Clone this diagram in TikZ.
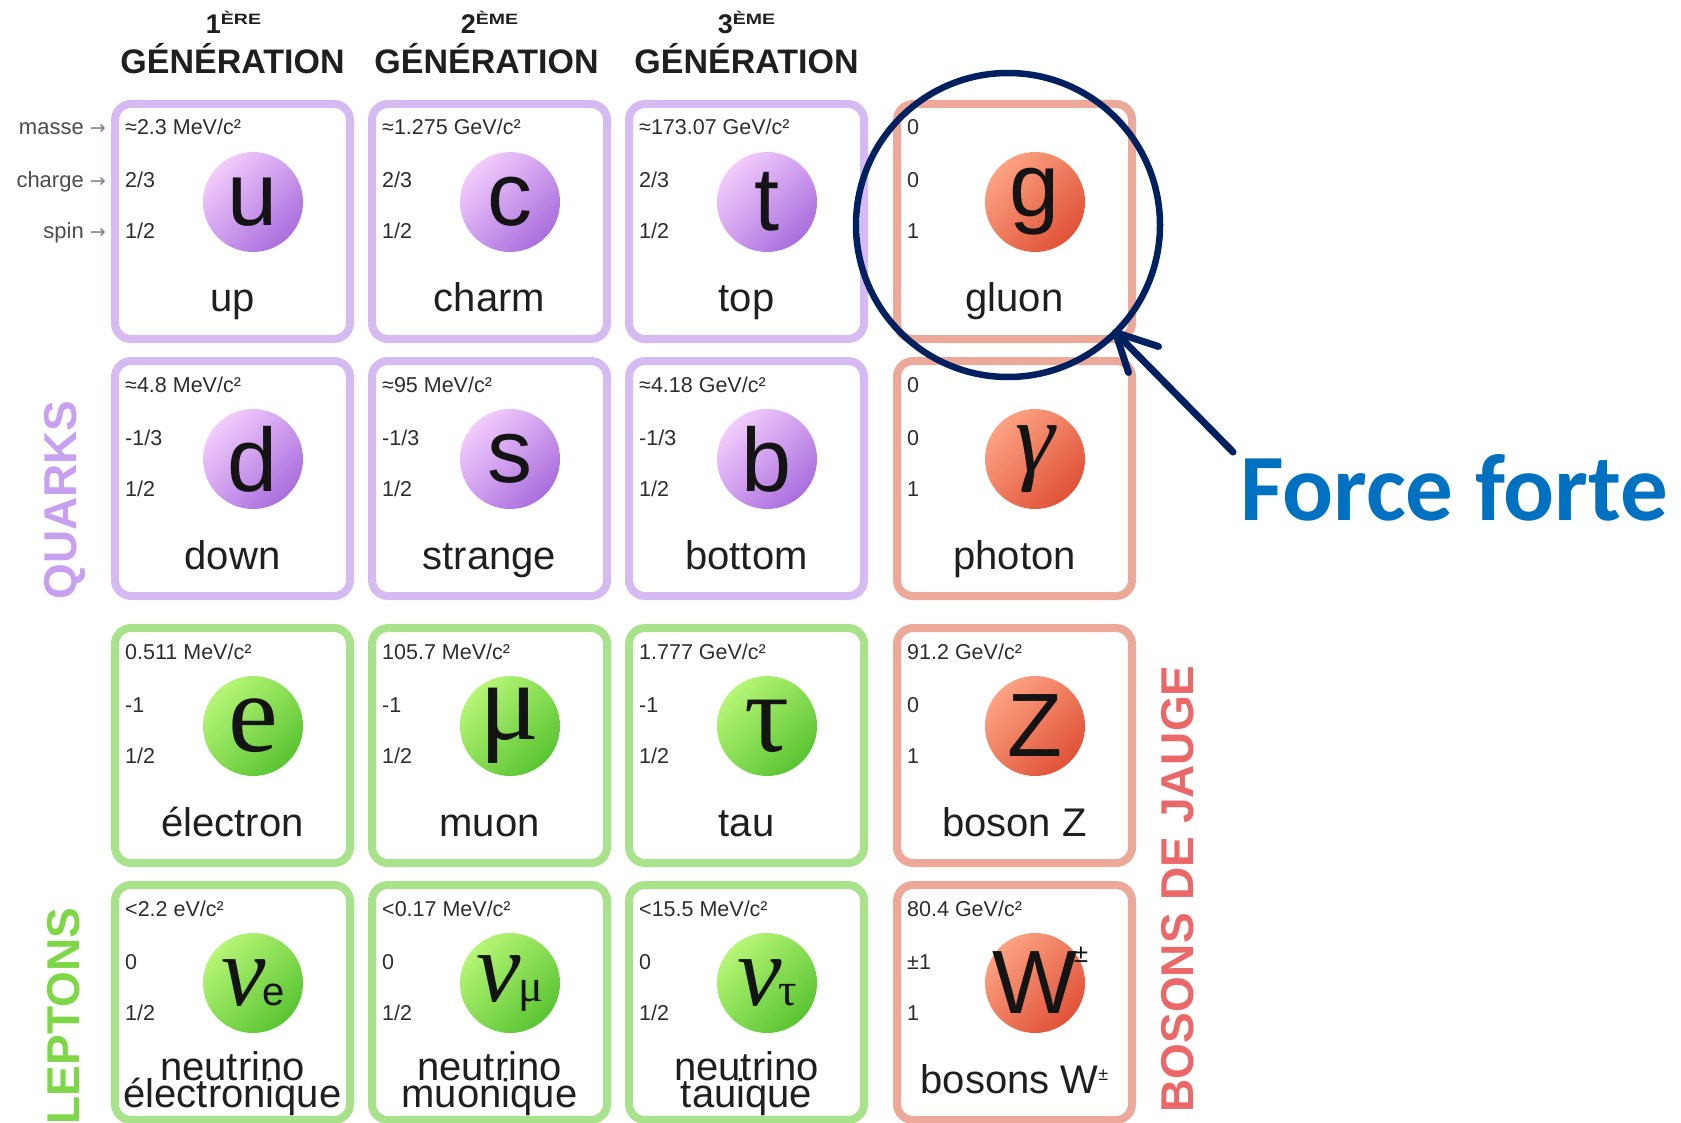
\documentclass[tikz,border=0pt]{standalone}
\usepackage{fontspec}
\setmainfont{Liberation Sans}
\newfontfamily\serifgr{Liberation Serif}
\newfontfamily\carlfont{Carlito}
\newfontfamily\djv{DejaVu Sans}
\newfontfamily\widesans[FakeStretch=1.3]{Liberation Sans}
\usetikzlibrary{calc}

\definecolor{qborder}{RGB}{214,186,242}
\definecolor{lborder}{RGB}{168,226,138}
\definecolor{bborder}{RGB}{236,168,152}
\definecolor{qlight}{RGB}{242,204,252}
\definecolor{qdark}{RGB}{170,110,222}
\definecolor{llight}{RGB}{182,246,118}
\definecolor{ldark}{RGB}{90,196,50}
\definecolor{blight}{RGB}{252,162,130}
\definecolor{bdark}{RGB}{224,82,56}
\definecolor{qtext}{RGB}{200,160,240}
\definecolor{ltext}{RGB}{125,215,70}
\definecolor{btext}{RGB}{236,104,104}
\definecolor{navy}{RGB}{0,32,96}
\definecolor{ffblue}{RGB}{0,112,192}
\definecolor{valgrey}{RGB}{45,45,45}

\newcommand\fsans{\fontsize{90}{90}\selectfont}
\newcommand\fserif{\serifgr\fontsize{112}{112}\selectfont}
\newcommand\fital{\serifgr\itshape\fontsize{100}{100}\selectfont}
\newcommand\twolines[2]{\lower14pt\vbox{\baselineskip=27pt\lineskiplimit=-100pt\lineskip=0pt\halign{\hfil##\hfil\cr#1\cr#2\cr}}}

\tikzset{
  pbox/.style={draw, line width=8pt, rounded corners=16pt, fill=white,
    minimum width=235pt, minimum height=235pt, inner sep=0pt},
  pboxq/.style={pbox, draw=qborder},
  pboxl/.style={pbox, draw=lborder},
  pboxb/.style={pbox, draw=bborder},
  pc/.style={circle, minimum size=100pt, inner sep=0pt},
  pcq/.style={pc, top color=qlight, bottom color=qdark, shading angle=45},
  pcl/.style={pc, top color=llight, bottom color=ldark, shading angle=45},
  pcb/.style={pc, top color=blight, bottom color=bdark, shading angle=45},
  val/.style={anchor=base west, inner sep=0pt, text=valgrey, font=\fontsize{21.5}{23}\selectfont},
  lab/.style={anchor=base east, inner sep=0pt, text=valgrey!85, font=\fontsize{22}{24}\selectfont},
  pname/.style={anchor=base, inner sep=0pt, text=black!88, font=\fontsize{40}{40}\selectfont},
  symb/.style={inner sep=0pt, text=black!92},
  hdr/.style={anchor=base, inner sep=0pt, text=black!88, font=\bfseries\fontsize{34}{34}\selectfont},
  hsup/.style={anchor=base, inner sep=0pt, text=black!88, font=\bfseries\fontsize{27}{27}\selectfont},
  famlabel/.style={rotate=90, inner sep=0pt, font=\bfseries\fontsize{46}{46}\selectfont},
  annot/.style={draw=navy, line width=7pt, line cap=round, line join=round}
}

\newcommand\particle[9]{%
  \node[pbox#4] (#1-box) at (#2+121.5,#3+121.5) {};
  \node[val] (#1-mass) at (#2+14,#3+35) {#5};
  \node[val] (#1-charge) at (#2+14,#3+88) {#6};
  \node[val] (#1-spin) at (#2+14,#3+139) {#7};
  \node[pc#4] (#1-ball) at (#2+142,#3+102) {};
  \node[symb] (#1-sym) at (#1-ball.center) {#8};
  \node[pname] (#1-name) at (#2+121.5,#3+212) {#9};
}

\begin{document}
\begin{tikzpicture}[x=1pt,y=-1pt]
\useasboundingbox (0,0) rectangle (1681,1123);
\clip (0,0) rectangle (1681,1123);
\fill[white] (0,0) rectangle (1681,1123);

% headers
\node[hsup] (h1) at (233.5,34) {1\raisebox{9pt}{\widesans\bfseries\fontsize{15}{15}\selectfont ÈRE}};
\node[hsup] (h2) at (489.5,34) {2\raisebox{9pt}{\widesans\bfseries\fontsize{15}{15}\selectfont ÈME}};
\node[hsup] (h3) at (746.5,34) {3\raisebox{9pt}{\widesans\bfseries\fontsize{15}{15}\selectfont ÈME}};
\node[hdr] (g1) at (232.5,74) {GÉNÉRATION};
\node[hdr] (g2) at (486.5,74) {GÉNÉRATION};
\node[hdr] (g3) at (746.5,74) {GÉNÉRATION};

% row labels
\node[lab] (lab-masse) at (106,135) {masse {\color{gray}\djv\fontsize{19}{19}\selectfont →}};
\node[lab] (lab-charge) at (106,188) {charge {\color{gray}\djv\fontsize{19}{19}\selectfont →}};
\node[lab] (lab-spin) at (106,239) {spin {\color{gray}\djv\fontsize{19}{19}\selectfont →}};

% family labels
\node[famlabel, text=qtext] (quarks) at (65,500) {QUARKS};
\node[famlabel, text=ltext] (leptons) at (64,1016) {LEPTONS};
\node[famlabel, text=btext] (bosons) at (1178,889) {BOSONS DE JAUGE};

% row 1
\particle{u}{111}{100}{q}{≈2.3 MeV/c²}{2/3}{1/2}{\fsans u}{up}
\particle{c}{368}{100}{q}{≈1.275 GeV/c²}{2/3}{1/2}{\fsans c}{charm}
\particle{t}{625}{100}{q}{≈173.07 GeV/c²}{2/3}{1/2}{\fsans t}{top}
\particle{g}{893}{100}{b}{0}{0}{1}{\fsans g}{gluon}
% row 2
\particle{d}{111}{357}{q}{≈4.8 MeV/c²}{-1/3}{1/2}{\fsans d}{down}
\particle{s}{368}{357}{q}{≈95 MeV/c²}{-1/3}{1/2}{\fsans s}{strange}
\particle{b}{625}{357}{q}{≈4.18 GeV/c²}{-1/3}{1/2}{\fsans b}{bottom}
\particle{gamma}{893}{357}{b}{0}{0}{1}{\fital γ}{photon}
% row 3
\particle{e}{111}{624}{l}{0.511 MeV/c²}{-1}{1/2}{\fserif e}{électron}
\particle{mu}{368}{624}{l}{105.7 MeV/c²}{-1}{1/2}{\fserif μ}{muon}
\particle{tau}{625}{624}{l}{1.777 GeV/c²}{-1}{1/2}{\fserif τ}{tau}
\particle{Z}{893}{624}{b}{91.2 GeV/c²}{0}{1}{\fsans Z}{boson Z}
% row 4
\particle{nue}{111}{881}{l}{<2.2 eV/c²}{0}{1/2}{\fital ν\kern-3pt{\normalfont\fontsize{40}{40}\selectfont e}}{\twolines{neutrino}{électronique}}
\particle{numu}{368}{881}{l}{<0.17 MeV/c²}{0}{1/2}{\fital ν\kern-3pt{\serifgr\upshape\fontsize{46}{46}\selectfont μ}}{\twolines{neutrino}{muonique}}
\particle{nutau}{625}{881}{l}{<15.5 MeV/c²}{0}{1/2}{\fital ν\kern-3pt{\serifgr\upshape\fontsize{46}{46}\selectfont τ}}{\twolines{neutrino}{tauique}}
\particle{W}{893}{881}{b}{80.4 GeV/c²}{±1}{1}{\fsans W}{bosons W\raisebox{13pt}{\fontsize{18}{18}\selectfont ±}}
\node[inner sep=0pt, text=black!92, font=\fontsize{26}{26}\selectfont] (W-pm) at (1081,955) {±};

% annotation
\node[draw=navy, line width=6.5pt, circle, minimum size=304pt, inner sep=0pt, outer sep=0pt] (ann) at (1008,225) {};
\coordinate (fstart) at (1233,452);
\draw[annot] (fstart) -- (ann.-45);
\draw[annot] ($(ann.-45)+(43,14)$) -- (ann.-45) -- ($(ann.-45)+(13,40)$);
\node[anchor=base west, inner sep=0pt, text=ffblue, font=\carlfont\bfseries\fontsize{95}{95}\selectfont] (ff) at (1240,520) {Force forte};
\end{tikzpicture}
\end{document}
